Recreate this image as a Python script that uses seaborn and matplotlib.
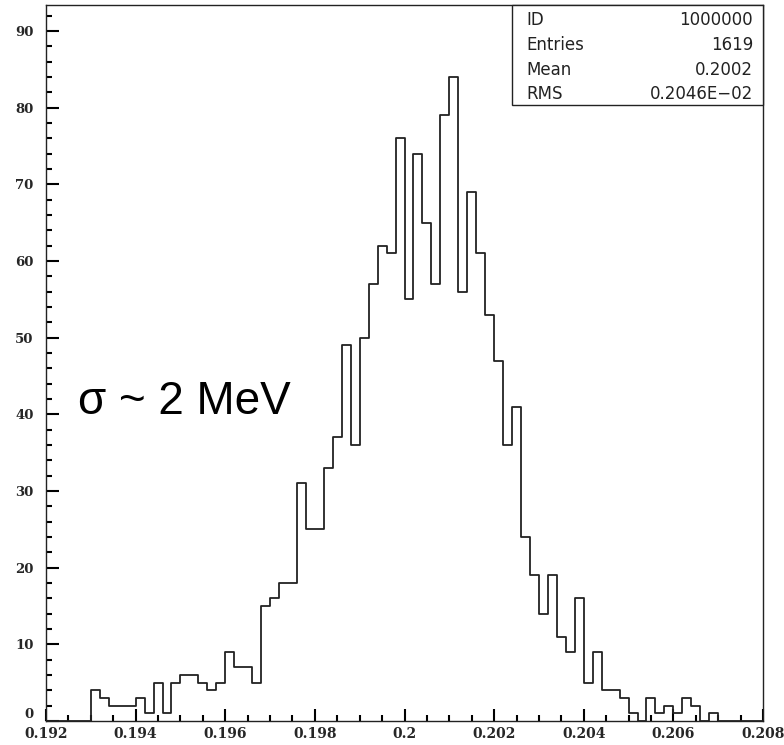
import numpy as np
import pandas as pd
import matplotlib
matplotlib.use("Agg")
import matplotlib.pyplot as plt
from matplotlib.patches import Rectangle
from matplotlib.ticker import FixedLocator, FixedFormatter, MultipleLocator
import seaborn as sns

# ---- data ----
bin_low = 0.192
bin_high = 0.208
n_bins = 80
counts = [0, 0, 0, 0, 0, 4, 3, 2, 2, 2,
          3, 1, 5, 1, 5, 6, 6, 5, 4, 5,
          9, 7, 7, 5, 15, 16, 18, 18, 31, 25,
          25, 33, 37, 49, 36, 50, 57, 62, 61, 76,
          55, 74, 65, 57, 79, 84, 56, 69, 61, 53,
          47, 36, 41, 24, 19, 14, 19, 11, 9, 16,
          5, 9, 4, 4, 3, 1, 0, 3, 1, 2,
          1, 3, 2, 0, 1, 0, 0, 0, 0, 0]
xtick_values = [0.192, 0.194, 0.196, 0.198, 0.2, 0.202, 0.204, 0.206, 0.208]
xtick_labels = ["0.192", "0.194", "0.196", "0.198", "0.2", "0.202", "0.204", "0.206", "0.208"]
ytick_values = [0, 10, 20, 30, 40, 50, 60, 70, 80, 90]
ytick_labels = ["0", "10", "20", "30", "40", "50", "60", "70", "80", "90"]
stat_names = ["ID", "Entries", "Mean", "RMS"]
stat_values = ["1000000", "1619", "0.2002", "0.2046E\u221202"]
annotation = "\u03c3 ~ 2 MeV"

edges = np.linspace(bin_low, bin_high, n_bins + 1)
centers = 0.5 * (edges[:-1] + edges[1:])
df = pd.DataFrame({"mass": centers, "entries": np.asarray(counts, dtype=float)})

sns.set_style("ticks")
plt.rcParams["font.family"] = ["DejaVu Sans"]

W, H = 784, 745
fig = plt.figure(figsize=(W / 100, H / 100), dpi=100)
fig.patch.set_facecolor("white")
L, R, T, B = 46, 763, 5, 721
ax = fig.add_axes([L / W, 1 - B / H, (R - L) / W, (B - T) / H])

sns.histplot(data=df, x="mass", weights="entries", bins=edges.tolist(),
             element="step", fill=False, color="#222222", linewidth=1.3, ax=ax)

ax.set_xlim(bin_low, bin_high)
ax.set_ylim(0, 93.4)
ax.set_xlabel("")
ax.set_ylabel("")

for s in ax.spines.values():
    s.set_linewidth(1.0)
    s.set_color("#222222")

ax.xaxis.set_major_locator(FixedLocator(xtick_values))
ax.xaxis.set_major_formatter(FixedFormatter(xtick_labels))
ax.xaxis.set_minor_locator(MultipleLocator(0.0005))
ax.yaxis.set_major_locator(FixedLocator(ytick_values))
ax.yaxis.set_major_formatter(FixedFormatter(ytick_labels))
ax.yaxis.set_minor_locator(MultipleLocator(2))

ax.tick_params(axis="both", which="both", direction="in", top=False, right=False,
               color="black", width=1.5)
ax.tick_params(axis="both", which="major", length=9)
ax.tick_params(axis="both", which="minor", length=4.5)
ax.tick_params(axis="x", which="major", pad=4)
ax.tick_params(axis="y", which="major", pad=9)
for lab in ax.get_xticklabels():
    lab.set_fontfamily("DejaVu Serif")
    lab.set_fontweight("bold")
    lab.set_fontsize(10)
for lab in ax.get_yticklabels():
    lab.set_fontfamily("DejaVu Serif")
    lab.set_fontweight("bold")
    lab.set_fontsize(9.5)
# lift the "0" label a little, as in the reference
ylabs = ax.get_yticklabels()
ylabs[0].set_verticalalignment("bottom")

# stats box
bx0 = (512 - L) / (R - L)
by0 = (B - 105) / (B - T)
ax.add_patch(Rectangle((bx0, by0), 1 - bx0, 1 - by0, transform=ax.transAxes,
                       facecolor="white", edgecolor="#222222", linewidth=1.0,
                       zorder=5, clip_on=False))
row_y = [20, 45, 70, 94]
for name, val, yy in zip(stat_names, stat_values, row_y):
    fig.text(526 / W, 1 - yy / H, name, ha="left", va="center", fontsize=12,
             family="DejaVu Sans", color="#222222", zorder=6)
    fig.text(753 / W, 1 - yy / H, val, ha="right", va="center", fontsize=12,
             family="DejaVu Sans", color="#222222", zorder=6)

fig.text(78 / W, 1 - 414 / H, annotation, ha="left", va="baseline",
         fontsize=33, family="Liberation Sans", color="black")

fig.savefig("out.png", dpi=100, facecolor="white")
